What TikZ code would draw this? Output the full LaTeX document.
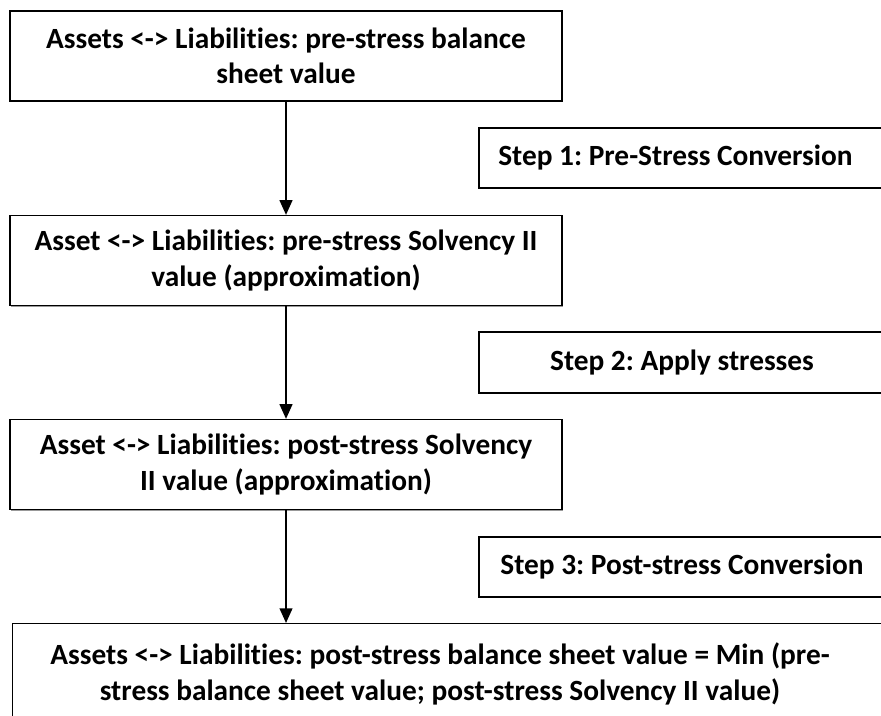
\documentclass[tikz,border=0pt]{standalone}
\usepackage{fontspec}
\setmainfont{Carlito}[Ligatures=NoCommon]
\usetikzlibrary{arrows.meta,positioning,shadows}
\frenchspacing

\begin{document}
\begin{tikzpicture}[x=0.75pt,y=-0.75pt,>={Triangle[length=11pt,width=9.5pt]},
  every node/.style={font=\fontsize{22pt}{26.5pt}\selectfont\bfseries,align=center},
  boxline/.style={draw,line width=0.9pt,fill=white,
    drop shadow={shadow xshift=0.8pt,shadow yshift=-0.8pt,fill=black!40,opacity=1}},
  mainbox/.style={boxline,minimum width=414pt,minimum height=67.5pt},
  stepbox/.style={boxline,minimum width=304.5pt,minimum height=45pt},
  flow/.style={->,line width=1.5pt}]
  \useasboundingbox (0,0) rectangle (881,716);
  \clip (0,0) rectangle (881,716);

  % balance sheet and Solvency II values
  \node[mainbox] (presheet) at (286,56) {Assets <-> Liabilities: pre-stress balance\\sheet value};
  \node[mainbox] (presolv) at (286,260.5) {Asset <-> Liabilities: pre-stress Solvency II\\value (approximation)};
  \node[mainbox] (postsolv) at (286,464.5) {Asset <-> Liabilities: post-stress Solvency\\II value (approximation)};
  \node[boxline,anchor=north west,minimum width=666pt,minimum height=112.5pt] (postsheet) at (12,623) {};
  \node (postsheettext) at (440,674) {Assets <-> Liabilities: post-stress balance sheet value = Min (pre-\\stress balance sheet value; post-stress Solvency II value)};

  % steps
  \node[stepbox] (stepone) at (682,158) {};
  \node (steponetext) at (675.5,158) {Step 1: Pre-Stress Conversion};
  \node[stepbox,minimum height=45.75pt] (steptwo) at (682,362.5) {Step 2: Apply stresses};
  \node[stepbox] (stepthree) at (682,567) {Step 3: Post-stress Conversion};

  \draw[flow] (presheet) -- (presolv);
  \draw[flow] (presolv) -- (postsolv);
  \draw[flow] (postsolv) -- (postsolv.south |- postsheet.north);
\end{tikzpicture}
\end{document}
